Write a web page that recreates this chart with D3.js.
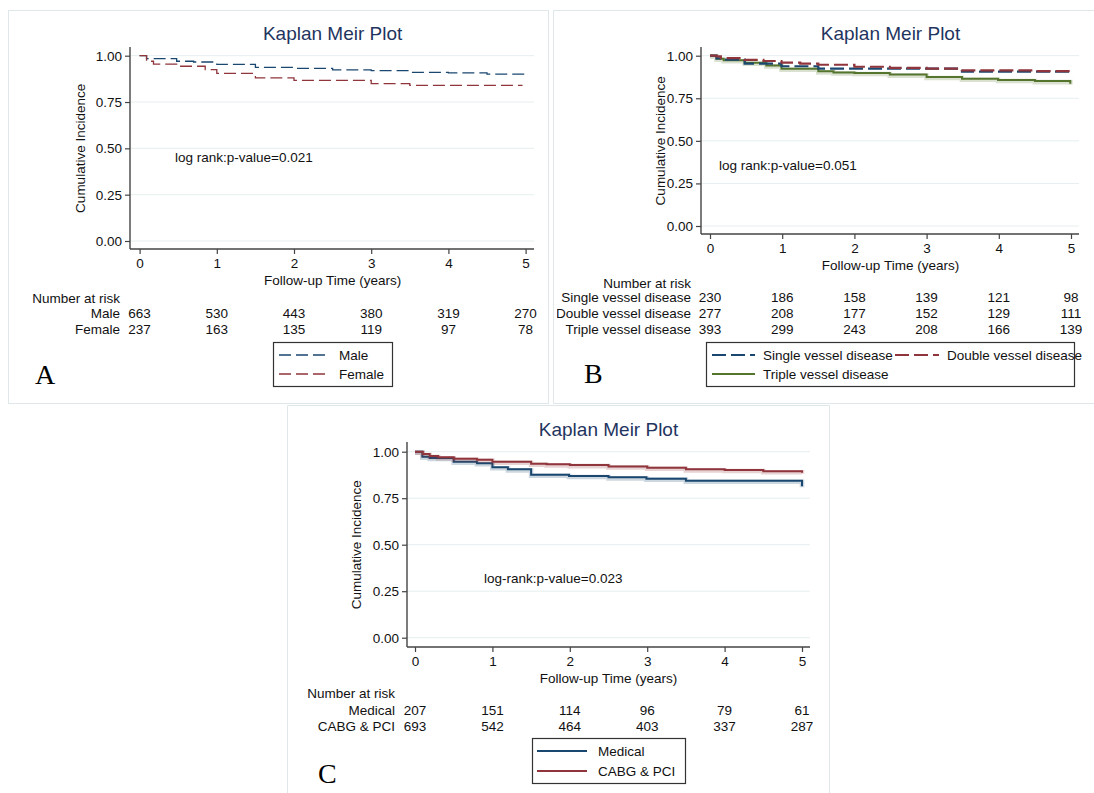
<!DOCTYPE html>
<html><head><meta charset="utf-8">
<script src="https://cdn.jsdelivr.net/npm/d3@7"></script>
<style>
body{margin:0;background:#fff}
svg{display:block}
text{font-family:"Liberation Sans",Arial,Helvetica,sans-serif;fill:#111}
</style>
</head><body>
<svg id="chart" width="1094" height="793"></svg>
<script>
// ---------- DATA ----------
const timeTicks = [0, 1, 2, 3, 4, 5];
const survTicks = [0, 0.25, 0.5, 0.75, 1];
const plotTitle = "Kaplan Meir Plot";
const xTitle = "Follow-up Time (years)";
const yTitle = "Cumulative Incidence";

// Panel A: gender  ([time, survival])
const maleCurve = [[0,1],[0.09,0.984],[0.48,0.970],[0.7,0.966],[1.0,0.953],[1.5,0.937],[2.0,0.932],[2.5,0.923],[3.0,0.919],[3.5,0.910],[4.0,0.907],[4.5,0.901],[5.0,0.889]];
const femaleCurve = [[0,1],[0.09,0.970],[0.18,0.955],[0.48,0.943],[0.85,0.925],[1.0,0.905],[1.5,0.880],[2.0,0.867],[3.0,0.849],[3.5,0.840],[4.96,0.840]];
const maleRisk = [663, 530, 443, 380, 319, 270];
const femaleRisk = [237, 163, 135, 119, 97, 78];

// Panel B: vessel disease
const singleCurve = [[0,1],[0.09,0.984],[0.19,0.977],[0.48,0.953],[0.99,0.938],[1.5,0.924],[3.49,0.906],[4.99,0.906]];
const doubleCurve = [[0,1],[0.09,0.996],[0.15,0.986],[0.48,0.975],[0.74,0.969],[0.99,0.959],[1.25,0.953],[1.5,0.947],[2.0,0.935],[2.49,0.928],[3.0,0.924],[3.49,0.914],[4.5,0.910],[4.99,0.910]];
const tripleCurve = [[0,1],[0.09,0.982],[0.19,0.973],[0.48,0.959],[0.78,0.943],[0.99,0.924],[1.5,0.908],[1.71,0.902],[2.0,0.898],[2.49,0.889],[3.0,0.875],[3.49,0.865],[3.99,0.857],[4.5,0.851],[4.99,0.836]];
const singleRisk = [230, 186, 158, 139, 121, 98];
const doubleRisk = [277, 208, 177, 152, 129, 111];
const tripleRisk = [393, 299, 243, 208, 166, 139];

// Panel C: treatment
const medicalCurve = [[0,1],[0.095,0.973],[0.19,0.966],[0.5,0.946],[0.8,0.938],[1.0,0.916],[1.2,0.905],[1.5,0.876],[1.99,0.869],[2.5,0.862],[2.99,0.855],[3.5,0.844],[5.0,0.814]];
const cabgCurve = [[0,1],[0.1,0.988],[0.19,0.977],[0.3,0.970],[0.5,0.962],[0.8,0.957],[1.0,0.946],[1.5,0.935],[1.7,0.932],[2.0,0.928],[2.5,0.921],[3.0,0.914],[3.5,0.905],[4.0,0.902],[4.5,0.895],[5.0,0.887]];
const medicalRisk = [207, 151, 114, 96, 79, 61];
const cabgRisk = [693, 542, 464, 403, 337, 287];

// ---------- STYLE ----------
const NAVY = "#1a476f", MAROON = "#90353b", GREEN = "#55752f";
const FS = 13.5;
const svg = d3.select("#chart");

// panel frames
svg.append("rect").attr("x",8.5).attr("y",10.5).attr("width",540).attr("height",393)
  .attr("fill","none").attr("stroke","#dfe7ea");
svg.append("path").attr("d","M1094,10.5H553.5V403.5H1094").attr("fill","none").attr("stroke","#dfe7ea");
svg.append("path").attr("d","M287.5,800V405.5H829.5V800").attr("fill","none").attr("stroke","#dfe7ea");

const panels = [
  {
    letter:"A", letterPos:[35,384], clipX:null, titleY:33,
    xr:[139.6,525.6], yr:[241,55.7], axisX:130, axisTop:47, axisBottom:249, axisRight:534, yTitleX:80,
    logText:"log rank:p-value=0.021", logPos:[175,157],
    labelRight:120, headerY:298, rowY:[313.3,329.3],
    series:[
      {name:"Male", data:maleCurve, risk:maleRisk, color:NAVY, dash:"12,5", w:1.3, halo:false},
      {name:"Female", data:femaleCurve, risk:femaleRisk, color:MAROON, dash:"12,5", w:1.3, halo:false}
    ],
    legendBox:[273,342,392,386],
    legendItems:[{i:0,x1:279,x2:330,tx:339,y:355},{i:1,x1:279,x2:330,tx:339,y:374}]
  },
  {
    letter:"B", letterPos:[584,383], clipX:557, titleY:33,
    xr:[710,1071], yr:[226,55.7], axisX:701, axisTop:47, axisBottom:234, axisRight:1079, yTitleX:660,
    logText:"log rank:p-value=0.051", logPos:[719,165],
    labelRight:691, headerY:283, rowY:[297.7,313.3,329.3],
    series:[
      {name:"Single vessel disease", data:singleCurve, risk:singleRisk, color:NAVY, dash:"14,5", w:2.2, halo:false},
      {name:"Double vessel disease", data:doubleCurve, risk:doubleRisk, color:MAROON, dash:"14,5", w:2.2, halo:false},
      {name:"Triple vessel disease", data:tripleCurve, risk:tripleRisk, color:GREEN, dash:null, w:2, halo:true}
    ],
    legendBox:[706,342,1074,386],
    legendItems:[{i:0,x1:712,x2:755,tx:763,y:355},{i:1,x1:895,x2:939,tx:947,y:355},{i:2,x1:712,x2:755,tx:763,y:374}],
    drawOrder:[2,0,1]
  },
  {
    letter:"C", letterPos:[318,783], clipX:null, titleY:429,
    xr:[415,802], yr:[637.7,451.7], axisX:407, axisTop:442, axisBottom:647, axisRight:810, yTitleX:356,
    logText:"log-rank:p-value=0.023", logPos:[484,578],
    labelRight:395, headerY:693, rowY:[710,726],
    series:[
      {name:"Medical", data:medicalCurve, risk:medicalRisk, color:NAVY, dash:null, w:2, halo:true},
      {name:"CABG & PCI", data:cabgCurve, risk:cabgRisk, color:MAROON, dash:null, w:2, halo:true}
    ],
    legendBox:[532,738,685,783],
    legendItems:[{i:0,x1:537,x2:587,tx:598,y:751},{i:1,x1:537,x2:587,tx:598,y:771}]
  }
];

panels.forEach((p, pi) => {
  let g = svg.append("g");
  if (p.clipX !== null) {
    svg.append("clipPath").attr("id","clip"+pi).append("rect")
      .attr("x",p.clipX).attr("y",0).attr("width",1094-p.clipX).attr("height",793);
    g.attr("clip-path","url(#clip"+pi+")");
  }
  const x = d3.scaleLinear().domain([0,5]).range(p.xr);
  const y = d3.scaleLinear().domain([0,1]).range(p.yr);
  const cx = (p.xr[0]+p.xr[1])/2;

  // gridlines
  g.append("g").selectAll("line").data(survTicks).join("line")
    .attr("x1",p.axisX).attr("x2",p.axisRight)
    .attr("y1",d=>y(d)).attr("y2",d=>y(d))
    .attr("stroke","#e6eef0").attr("stroke-width",1);

  // y axis
  const yAxis = d3.axisLeft(y).tickValues(survTicks).tickFormat(d3.format(".2f")).tickSizeOuter(0).tickSize(5).tickPadding(3);
  const ya = g.append("g").attr("transform",`translate(${p.axisX},0)`).call(yAxis);
  ya.select(".domain").remove();
  ya.append("line").attr("x1",0).attr("x2",0).attr("y1",p.axisTop).attr("y2",p.axisBottom).attr("stroke","#444").attr("stroke-width",1.4);
  ya.selectAll(".tick line").attr("stroke","#444").attr("stroke-width",1.2);
  ya.selectAll(".tick text").attr("font-size",FS).attr("fill","#111").attr("font-family","Liberation Sans, Arial, sans-serif");

  // x axis
  const xAxis = d3.axisBottom(x).tickValues(timeTicks).tickFormat(d3.format("d")).tickSizeOuter(0).tickSize(5).tickPadding(4);
  const xa = g.append("g").attr("transform",`translate(0,${p.axisBottom})`).call(xAxis);
  xa.select(".domain").remove();
  xa.append("line").attr("x1",p.axisX).attr("x2",p.axisRight).attr("y1",0).attr("y2",0).attr("stroke","#444").attr("stroke-width",1.4);
  xa.selectAll(".tick line").attr("stroke","#444").attr("stroke-width",1.2);
  xa.selectAll(".tick text").attr("font-size",FS).attr("fill","#111").attr("font-family","Liberation Sans, Arial, sans-serif");

  // titles
  g.append("text").attr("x",cx).attr("y",p.titleY).attr("dy","0.35em")
    .attr("text-anchor","middle").attr("font-size",19).style("fill","#1f3560").text(plotTitle);
  g.append("text").attr("x",cx).attr("y",p.axisBottom+31).attr("dy","0.35em")
    .attr("text-anchor","middle").attr("font-size",FS).text(xTitle);
  g.append("text").attr("transform",`translate(${p.yTitleX},${(p.yr[0]+p.yr[1])/2}) rotate(-90)`)
    .attr("dy","0.35em").attr("text-anchor","middle").attr("font-size",FS).text(yTitle);
  g.append("text").attr("x",p.logPos[0]).attr("y",p.logPos[1]).attr("dy","0.35em")
    .attr("font-size",FS).text(p.logText);

  // curves
  const line = d3.line().x(d=>x(d[0])).y(d=>y(d[1])).curve(d3.curveStepAfter);
  const order = p.drawOrder || p.series.map((s,i)=>i);
  order.forEach(i => {
    const s = p.series[i];
    if (s.halo) {
      g.append("path").datum(s.data).attr("d",line)
        .attr("fill","none").attr("stroke",s.color).attr("stroke-opacity",0.22)
        .attr("stroke-width",s.w+2.6).attr("transform","translate(0,1)");
    }
    g.append("path").datum(s.data).attr("d",line)
      .attr("fill","none").attr("stroke",s.color).attr("stroke-width",s.w)
      .attr("stroke-dasharray",s.dash);
  });

  // number at risk
  g.append("text").attr("x",p.labelRight).attr("y",p.headerY).attr("dy","0.35em")
    .attr("text-anchor","end").attr("font-size",FS).text("Number at risk");
  p.series.forEach((s,i) => {
    g.append("text").attr("x",p.labelRight).attr("y",p.rowY[i]).attr("dy","0.35em")
      .attr("text-anchor","end").attr("font-size",FS).text(s.name);
    g.append("g").selectAll("text").data(s.risk).join("text")
      .attr("x",(d,j)=>x(timeTicks[j])).attr("y",p.rowY[i]).attr("dy","0.35em")
      .attr("text-anchor","middle").attr("font-size",FS).text(d=>d);
  });

  // legend
  const b = p.legendBox;
  g.append("rect").attr("x",b[0]+0.5).attr("y",b[1]+0.5).attr("width",b[2]-b[0]).attr("height",b[3]-b[1])
    .attr("fill","#fff").attr("stroke","#333").attr("stroke-width",1.2);
  p.legendItems.forEach(it => {
    const s = p.series[it.i];
    g.append("line").attr("x1",it.x1).attr("x2",it.x2).attr("y1",it.y).attr("y2",it.y)
      .attr("stroke",s.color).attr("stroke-width",s.w).attr("stroke-dasharray",s.dash);
    g.append("text").attr("x",it.tx).attr("y",it.y).attr("dy","0.35em").attr("font-size",FS).text(s.name);
  });

  // panel letter
  g.append("text").attr("x",p.letterPos[0]).attr("y",p.letterPos[1])
    .attr("font-size",28).style("font-family","'Liberation Serif','Times New Roman',serif").style("fill","#000").text(p.letter);
});
</script>
</body></html>
